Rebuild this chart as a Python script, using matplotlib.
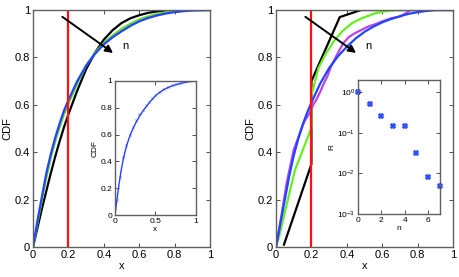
import matplotlib
matplotlib.use('Agg')
import matplotlib.pyplot as plt

plt.rcParams['font.family'] = ['Liberation Sans', 'DejaVu Sans']

# left panel: CDFs for increasing n
xl = [0, 0.025, 0.05, 0.075, 0.1, 0.125, 0.15, 0.175, 0.2, 0.25, 0.3, 0.35, 0.4, 0.45,
      0.5, 0.55, 0.6, 0.65, 0.7, 0.75, 0.8, 0.85, 0.9, 1.0]
left_black = [0, 0.08, 0.16, 0.235, 0.31, 0.38, 0.445, 0.505, 0.56, 0.66, 0.75, 0.82, 0.875, 0.915,
              0.945, 0.965, 0.978, 0.988, 0.994, 0.998, 1.0, 1.0, 1.0, 1.0]
left_green = [0, 0.10, 0.20, 0.29, 0.375, 0.445, 0.505, 0.56, 0.605, 0.69, 0.765, 0.82, 0.86, 0.893,
              0.92, 0.942, 0.96, 0.973, 0.983, 0.99, 0.995, 0.998, 1.0, 1.0]
left_blue = [0, 0.11, 0.21, 0.31, 0.39, 0.46, 0.52, 0.575, 0.62, 0.70, 0.765, 0.815, 0.855, 0.885,
             0.91, 0.933, 0.952, 0.966, 0.977, 0.985, 0.991, 0.995, 0.998, 1.0]

# left inset
xin = [0, 0.025, 0.05, 0.075, 0.1, 0.125, 0.15, 0.175, 0.2, 0.25, 0.3, 0.35, 0.4, 0.45,
       0.5, 0.55, 0.6, 0.65, 0.7, 0.75, 0.8, 0.85, 0.9, 1.0]
cdf_in = [0, 0.12, 0.23, 0.33, 0.41, 0.475, 0.53, 0.575, 0.615, 0.68, 0.735, 0.78, 0.82, 0.857,
          0.89, 0.915, 0.935, 0.95, 0.962, 0.972, 0.98, 0.987, 0.993, 1.0]
xin_pts = [0.02, 0.06, 0.1, 0.14, 0.18, 0.22, 0.26, 0.3, 0.34, 0.38, 0.42, 0.46, 0.5, 0.55, 0.6, 0.65, 0.7, 0.75, 0.8]
cdf_pts = [0.11, 0.28, 0.43, 0.525, 0.595, 0.66, 0.71, 0.75, 0.787, 0.818, 0.845, 0.87, 0.895, 0.92, 0.94, 0.955, 0.967, 0.977, 0.985]

# right panel
xr_black = [0.045, 0.2, 0.2, 0.36, 0.48, 1.0]
r_black = [0.01, 0.35, 0.70, 0.97, 1.0, 1.0]
xr_green = [0, 0.017, 0.107, 0.192, 0.2, 0.2, 0.239, 0.277, 0.324, 0.371, 0.428, 0.484, 0.559, 0.62, 0.68, 1.0]
r_green = [0, 0.043, 0.325, 0.487, 0.50, 0.64, 0.754, 0.81, 0.866, 0.908, 0.944, 0.965, 0.986, 0.995, 1.0, 1.0]
xr_purple = [0, 0.03, 0.06, 0.1, 0.13, 0.16, 0.19, 0.21, 0.23, 0.25, 0.27, 0.29, 0.31, 0.33, 0.35,
             0.38, 0.41, 0.44, 0.48, 0.52, 0.56, 0.6, 0.65, 0.7, 0.73, 0.76, 1.0]
r_purple = [0, 0.13, 0.27, 0.41, 0.47, 0.53, 0.565, 0.60, 0.625, 0.655, 0.69, 0.72, 0.76, 0.79, 0.82,
            0.86, 0.885, 0.90, 0.915, 0.93, 0.94, 0.952, 0.965, 0.972, 0.985, 1.0, 1.0]
xr_blue = [0, 0.025, 0.05, 0.075, 0.1, 0.125, 0.15, 0.175, 0.2, 0.25, 0.3, 0.35, 0.4, 0.45,
           0.5, 0.55, 0.6, 0.65, 0.7, 0.75, 0.8, 0.85, 0.9, 1.0]
r_blue = [0, 0.10, 0.20, 0.30, 0.385, 0.455, 0.515, 0.565, 0.61, 0.69, 0.755, 0.805, 0.845, 0.88,
          0.908, 0.93, 0.948, 0.962, 0.974, 0.984, 0.991, 0.996, 1.0, 1.0]

# right inset
n_vals = [0, 1, 2, 3, 4, 5, 6, 7]
R_vals = [1.0, 0.52, 0.26, 0.145, 0.145, 0.032, 0.0082, 0.0048]

ticks = [0, 0.2, 0.4, 0.6, 0.8, 1]
tick_labels = ['0', '0.2', '0.4', '0.6', '0.8', '1']
spine_col = '#606060'


def style_axes(ax, fs):
    for s in ax.spines.values():
        s.set_color(spine_col)
        s.set_linewidth(1.0)
    ax.tick_params(direction='in', top=True, right=True, labelsize=fs,
                   length=3, width=0.6, color='#333333', pad=2)


fig = plt.figure(figsize=(4.6, 2.77), dpi=100)

for i, x0 in enumerate([0.0717, 0.6]):
    ax = fig.add_axes([x0, 0.1083, 0.385, 0.8556])
    if i == 0:
        ax.plot(xl, left_black, color='black', lw=1.6)
        ax.plot(xl, left_green, color='#66dd22', lw=1.6)
        ax.plot(xl, left_blue, color='#2244ff', lw=1.6)
    else:
        ax.plot(xr_black, r_black, color='black', lw=1.6)
        ax.plot(xr_green, r_green, color='#66ee22', lw=1.6)
        ax.plot(xr_purple, r_purple, color='#bb44ee', lw=1.6)
        ax.plot(xr_blue, r_blue, color='#2244ff', lw=1.6)
    ax.axvline(0.2, color='#ff1111', lw=1.6)
    ax.annotate('', xy=(0.465, 0.812), xytext=(0.153, 0.978),
                arrowprops=dict(arrowstyle='-|>', color='black', lw=1.4,
                                mutation_scale=11))
    ax.text(0.505, 0.85, 'n', fontsize=8, va='center', ha='left')
    ax.set_xlim(0, 1)
    ax.set_ylim(0, 1)
    ax.set_xticks(ticks)
    ax.set_xticklabels(tick_labels)
    ax.set_yticks(ticks)
    ax.set_yticklabels(tick_labels)
    ax.set_xlabel('x', fontsize=8, labelpad=1)
    ax.set_ylabel('CDF', fontsize=8, labelpad=2)
    style_axes(ax, 8)

# left inset
ax1 = fig.add_axes([0.25, 0.2238, 0.176, 0.4838])
ax1.plot(xin_pts, cdf_pts, linestyle='none', marker='x', ms=2, mew=0.5, color='#99aaff')
ax1.plot(xin, cdf_in, color='#2244ff', lw=1.0)
ax1.set_xlim(0, 1)
ax1.set_ylim(0, 1)
ax1.set_xticks([0, 0.5, 1])
ax1.set_xticklabels(['0', '0.5', '1'])
ax1.set_yticks(ticks)
ax1.set_yticklabels(tick_labels)
ax1.set_xlabel('x', fontsize=6, labelpad=1)
ax1.set_ylabel('CDF', fontsize=6, labelpad=1)
style_axes(ax1, 6)

# right inset
ax2 = fig.add_axes([0.778, 0.2274, 0.178, 0.4838])
ax2.semilogy(n_vals, R_vals, linestyle='none', marker='X', ms=4, mew=0.3,
             color='#2244ff', clip_on=False)
ax2.set_xlim(0, 7)
ax2.set_ylim(1e-3, 2)
ax2.set_xticks([0, 2, 4, 6])
ax2.set_yticks([1e-3, 1e-2, 1e-1, 1])
ax2.minorticks_off()
ax2.set_xlabel('n', fontsize=6, labelpad=1)
ax2.set_ylabel('R', fontsize=6, labelpad=1)
style_axes(ax2, 6)

fig.savefig('out.png', dpi=100)
